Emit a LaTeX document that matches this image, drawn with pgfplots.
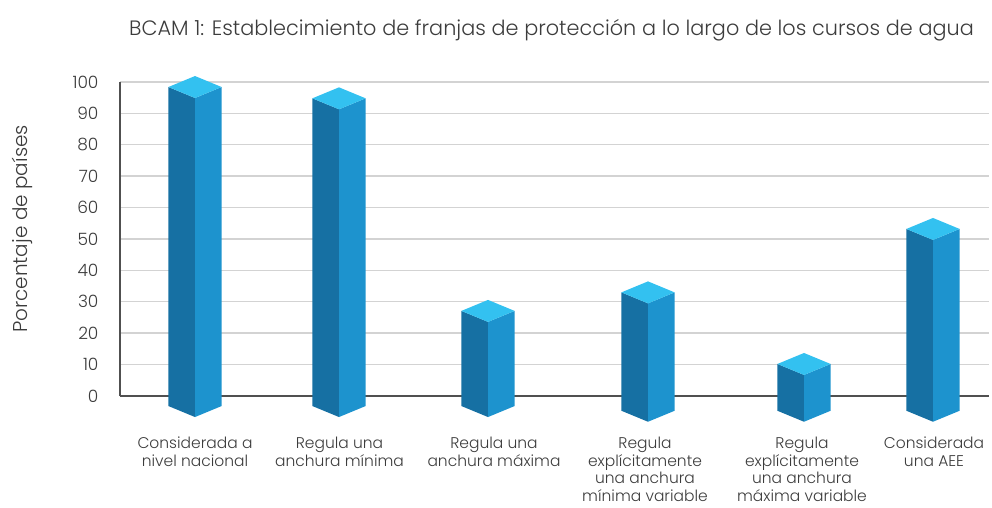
\documentclass[border=0pt]{standalone}
\usepackage{pgfplots}
\usepackage{pgfplotstable}
\pgfplotsset{compat=1.18}
\usepackage{fontspec}
\setmainfont{Poppins}[UprightFont=* Light]
\definecolor{barL}{HTML}{1670A3}
\definecolor{barR}{HTML}{1D93CE}
\definecolor{barT}{HTML}{33C1F0}
\definecolor{gridc}{HTML}{D3D3D3}
\definecolor{axc}{HTML}{505050}
\definecolor{txt}{HTML}{3C3C3C}

\pgfplotstableread{
x val base
195 98.4 -3.2
339 94.8 -3.2
488 27.1 -3.2
648 33.0 -4.7
804 10.2 -4.7
933 53.2 -4.7
}\bars

\begin{document}
\begin{tikzpicture}
\begin{axis}[
  scale only axis,
  width=869pt, height=314pt,
  xmin=120, xmax=989, ymin=0, ymax=100,
  clip=false,
  axis lines=left,
  axis line style={-, draw=axc, line width=1.4pt},
  ymajorgrids,
  major grid style={draw=gridc, line width=1.4pt},
  major tick length=0pt,
  ytick={0,10,...,100},
  xtick={195,339.5,494,645,802,934},
  xticklabels={Considerada a\\nivel nacional, Regula una\\anchura mínima, Regula una\\anchura máxima, Regula\\explícitamente\\una anchura\\mínima variable, Regula\\explícitamente\\una anchura\\máxima variable, Considerada\\una AEE},
  xticklabel style={align=center, font=\fontsize{15.5}{17.5}\selectfont, text=txt, anchor=north, yshift=-37.5pt},
  yticklabel style={font=\fontsize{17}{20}\selectfont, text=txt, xshift=-18pt},
  /pgf/number format/assume math mode=true,
  title={BCAM 1: Establecimiento de franjas de protección a lo largo de los cursos de agua},
  title style={at={(0.5,1)}, anchor=base, yshift=40pt, xshift=-3pt, font=\fontsize{20.8}{24}\selectfont, text=txt},
  ylabel={Porcentaje de países},
  ylabel style={at={(axis description cs:-0.112,0.532)}, anchor=center, font=\fontsize{20}{24}\selectfont, text=txt},
]
\pgfplotsinvokeforeach{0,...,5}{
  \pgfplotstablegetelem{#1}{x}\of\bars \let\cx\pgfplotsretval
  \pgfplotstablegetelem{#1}{val}\of\bars \let\cv\pgfplotsretval
  \pgfplotstablegetelem{#1}{base}\of\bars \let\cb\pgfplotsretval
  \pgfmathsetmacro\xl{\cx-26.6}
  \pgfmathsetmacro\xr{\cx+26.6}
  \pgfmathsetmacro\vd{\cv-3.5}
  \pgfmathsetmacro\vu{\cv+3.5}
  \pgfmathsetmacro\bd{\cb-3.5}
  \edef\tmp{%
    \noexpand\addplot[fill=barL, draw=none] coordinates {(\xl,\cb) (\cx,\bd) (\cx,\vd) (\xl,\cv)};
    \noexpand\addplot[fill=barR, draw=none] coordinates {(\cx,\bd) (\xr,\cb) (\xr,\cv) (\cx,\vd)};
    \noexpand\addplot[fill=barT, draw=none] coordinates {(\xl,\cv) (\cx,\vu) (\xr,\cv) (\cx,\vd)};
  }\tmp
}
\end{axis}
\pgfresetboundingbox
\path[use as bounding box] (-120pt,-112pt) rectangle (872pt,396pt);
\end{tikzpicture}
\end{document}
